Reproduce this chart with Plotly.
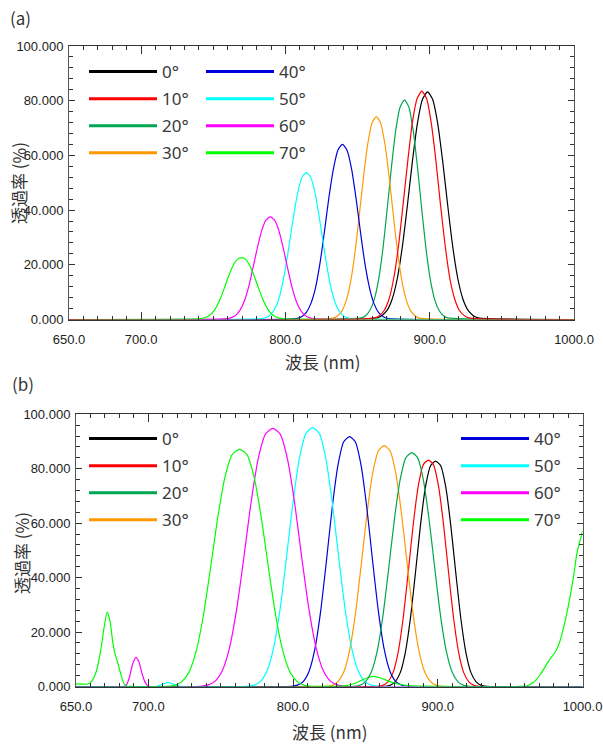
import plotly.graph_objects as go

# ---------------- data: panel (a) ----------------
angles = ["0°", "10°", "20°", "30°", "40°", "50°", "60°", "70°"]
colors = ["#000000", "#ff0000", "#00a651", "#ff9900", "#0000dd", "#00ffff", "#ff00ff", "#00ff00"]

a0_x = [650, 863.5, 867, 870.5, 874, 877.5, 881, 884.5, 888, 891.5, 895, 898.5, 902, 905.5, 909, 912.5, 916, 919.5, 923, 926.5, 930, 933.5, 1000]
a0_y = [0, 0.6, 1.5, 3.4, 7.5, 14.9, 26.5, 41.6, 57.8, 71.8, 80.5, 83.2, 80.5, 71.8, 57.8, 41.6, 26.5, 14.9, 7.5, 3.4, 1.5, 0.6, 0]

a10_x = [650, 862.0, 865.3, 868.5, 871.8, 875.0, 878.3, 881.5, 884.8, 888.0, 891.3, 894.5, 897.8, 901.0, 904.3, 907.5, 910.8, 914.0, 917.3, 920.5, 923.8, 927.0, 1000]
a10_y = [0, 0.6, 1.5, 3.4, 7.5, 14.9, 26.6, 41.8, 58.0, 72.1, 80.8, 83.5, 80.8, 72.1, 58.0, 41.8, 26.6, 14.9, 7.5, 3.4, 1.5, 0.6, 0]

a20_x = [650, 852.5, 855.5, 858.5, 861.5, 864.5, 867.5, 870.5, 873.5, 876.5, 879.5, 882.5, 885.5, 888.5, 891.5, 894.5, 897.5, 900.5, 903.5, 906.5, 909.5, 912.5, 1000]
a20_y = [0, 0.6, 1.4, 3.3, 7.2, 14.4, 25.5, 40.2, 55.8, 69.3, 77.7, 80.3, 77.7, 69.3, 55.8, 40.2, 25.5, 14.4, 7.2, 3.3, 1.4, 0.6, 0]

a30_x = [650, 833, 836, 839, 842, 845, 848, 851, 854, 857, 860, 863, 866, 869, 872, 875, 878, 881, 884, 887, 890, 893, 1000]
a30_y = [0, 0.5, 1.3, 3.0, 6.7, 13.3, 23.6, 37.1, 51.6, 64.0, 71.8, 74.2, 71.8, 64.0, 51.6, 37.1, 23.6, 13.3, 6.7, 3.0, 1.3, 0.5, 0]

a40_x = [650, 808.3, 811.4, 814.5, 817.6, 820.8, 823.9, 827.0, 830.1, 833.3, 836.4, 839.5, 842.6, 845.8, 848.9, 852.0, 855.1, 858.3, 861.4, 864.5, 867.6, 870.8, 1000]
a40_y = [0, 0.4, 1.1, 2.6, 5.8, 11.5, 20.4, 32.0, 44.5, 55.2, 62.0, 64.0, 62.0, 55.2, 44.5, 32.0, 20.4, 11.5, 5.8, 2.6, 1.1, 0.4, 0]

a50_x = [650, 784.5, 787.5, 790.5, 793.5, 796.5, 799.5, 802.5, 805.5, 808.5, 811.5, 814.5, 817.5, 820.5, 823.5, 826.5, 829.5, 832.5, 835.5, 838.5, 841.5, 844.5, 1000]
a50_y = [0, 0.4, 0.9, 2.2, 4.8, 9.6, 17.1, 26.9, 37.3, 46.3, 52.0, 53.7, 52.0, 46.3, 37.3, 26.9, 17.1, 9.6, 4.8, 2.2, 0.9, 0.4, 0]

a60_x = [650, 759.5, 762.5, 765.5, 768.5, 771.5, 774.5, 777.5, 780.5, 783.5, 786.5, 789.5, 792.5, 795.5, 798.5, 801.5, 804.5, 807.5, 810.5, 813.5, 816.5, 819.5, 1000]
a60_y = [0, 0.3, 0.7, 1.5, 3.4, 6.7, 11.9, 18.8, 26.1, 32.4, 36.3, 37.5, 36.3, 32.4, 26.1, 18.8, 11.9, 6.7, 3.4, 1.5, 0.7, 0.3, 0]

a70_x = [650, 739.5, 742.5, 745.5, 748.5, 751.5, 754.5, 757.5, 760.5, 763.5, 766.5, 769.5, 772.5, 775.5, 778.5, 781.5, 784.5, 787.5, 790.5, 793.5, 796.5, 799.5, 1000]
a70_y = [0, 0.2, 0.4, 0.9, 2.0, 4.0, 7.2, 11.3, 15.7, 19.5, 21.9, 22.6, 21.9, 19.5, 15.7, 11.3, 7.2, 4.0, 2.0, 0.9, 0.4, 0.2, 0]

# ---------------- data: panel (b) ----------------
b0_x = [650, 863.5, 867, 870.5, 874, 877.5, 881, 884.5, 888, 891.5, 895, 898.5, 902, 905.5, 909, 912.5, 916, 919.5, 923, 926.5, 930, 933.5, 1000]
b0_y = [0, 0.1, 0.4, 1.7, 5.0, 12.3, 24.7, 41.4, 59.1, 73.3, 81.1, 82.8, 81.1, 73.3, 59.1, 41.4, 24.7, 12.3, 5.0, 1.7, 0.4, 0.1, 0]

b10_x = [650, 858.5, 862, 865.5, 869, 872.5, 876, 879.5, 883, 886.5, 890, 893.5, 897, 900.5, 904, 907.5, 911, 914.5, 918, 921.5, 925, 928.5, 1000]
b10_y = [0, 0.1, 0.4, 1.7, 5.0, 12.3, 24.8, 41.6, 59.4, 73.6, 81.5, 83.2, 81.5, 73.6, 59.4, 41.6, 24.8, 12.3, 5.0, 1.7, 0.4, 0.1, 0]

b20_x = [650, 842, 846, 850, 854, 858, 862, 866, 870, 874, 878, 882, 886, 890, 894, 898, 902, 906, 910, 914, 918, 922, 1000]
b20_y = [0, 0.1, 0.4, 1.7, 5.2, 12.7, 25.6, 43.0, 61.3, 76.0, 84.1, 85.9, 84.1, 76.0, 61.3, 43.0, 25.6, 12.7, 5.2, 1.7, 0.4, 0.1, 0]

b30_x = [650, 823, 827, 831, 835, 839, 843, 847, 851, 855, 859, 863, 867, 871, 875, 879, 883, 887, 891, 895, 899, 903, 1000]
b30_y = [0, 0.1, 0.4, 1.8, 5.3, 13.1, 26.4, 44.3, 63.2, 78.3, 86.6, 88.5, 86.6, 78.3, 63.2, 44.3, 26.4, 13.1, 5.3, 1.8, 0.4, 0.1, 0]

b40_x = [650, 799, 803, 807, 811, 815, 819, 823, 827, 831, 835, 839, 843, 847, 851, 855, 859, 863, 867, 871, 875, 879, 1000]
b40_y = [0, 0.1, 0.5, 1.8, 5.5, 13.6, 27.4, 45.9, 65.5, 81.2, 89.9, 91.8, 89.9, 81.2, 65.5, 45.9, 27.4, 13.6, 5.5, 1.8, 0.5, 0.1, 0]

b50_x = [650, 705, 709, 713.5, 718, 722, 768.5, 773, 777.5, 782, 786.5, 791, 795.5, 800, 804.5, 809, 813.5, 818, 822.5, 827, 831.5, 836, 840.5, 845, 849.5, 854, 858.5, 1000]
b50_y = [0, 0, 0.6, 1.5, 0.7, 0.1, 0.1, 0.5, 1.9, 5.7, 14.1, 28.3, 47.6, 67.9, 84.2, 93.1, 95.1, 93.1, 84.2, 67.9, 47.6, 28.3, 14.1, 5.7, 1.9, 0.5, 0.1, 0]

b60_x = [650, 683, 685, 687, 689, 691.4, 693.5, 695.5, 697.5, 700, 736, 741, 746, 751, 756, 761, 766, 771, 776, 781, 786, 791, 796, 801, 806, 811, 816, 821, 826, 831, 836, 1000]
b60_y = [0, 0, 0.8, 3.5, 8.0, 10.7, 9.0, 5.0, 1.8, 0.1, 0.1, 0.5, 1.9, 5.7, 14.0, 28.3, 47.4, 67.7, 83.9, 92.8, 94.8, 92.8, 83.9, 67.7, 47.4, 28.3, 14.0, 5.7, 1.9, 0.5, 0.1, 0]

b70_x = [650, 654, 658, 661, 664, 667, 669.5, 671.5, 673.5, 675.5, 677, 679, 681, 683, 685, 690,
         713, 718, 723, 728, 733, 738, 743, 748, 753, 758, 763, 768, 773, 778, 783, 788, 793, 798, 803, 808, 813,
         835, 842, 848, 853, 856, 860, 866, 872, 880,
         955, 961, 966, 971, 977, 981, 984, 988, 991, 994, 996, 998, 1000]
b70_y = [1.0, 0.9, 0.9, 2.0, 5.5, 13.0, 22.0, 27.3, 24.0, 16.0, 12.0, 8.5, 4.5, 1.2, 0.2, 0,
         0.1, 0.4, 1.7, 5.2, 12.9, 26.0, 43.6, 62.2, 77.1, 85.3, 87.1, 85.3, 77.1, 62.2, 43.6, 26.0, 12.9, 5.2, 1.7, 0.4, 0.1,
         0.2, 1.0, 2.5, 3.5, 3.7, 3.2, 2.0, 1.0, 0.3,
         0, 0.2, 1.5, 4.5, 9.7, 12.5, 16.0, 24.0, 31.8, 41.0, 48.5, 53.0, 57.0]

x_tickvals = [650, 700, 800, 900, 1000]
x_ticktext = ["650.0", "700.0", "800.0", "900.0", "1000.0"]
y_tickvals = [0, 20, 40, 60, 80, 100]
y_ticktext = ["0.000", "20.000", "40.000", "60.000", "80.000", "100.000"]

a_series = [(a0_x, a0_y), (a10_x, a10_y), (a20_x, a20_y), (a30_x, a30_y),
            (a40_x, a40_y), (a50_x, a50_y), (a60_x, a60_y), (a70_x, a70_y)]
b_series = [(b0_x, b0_y), (b10_x, b10_y), (b20_x, b20_y), (b30_x, b30_y),
            (b40_x, b40_y), (b50_x, b50_y), (b60_x, b60_y), (b70_x, b70_y)]

W, H = 603, 744
fig = go.Figure()

a_order = [0, 2, 3, 4, 5, 6, 7, 1]   # red drawn last (on the baseline)
b_order = [0, 1, 3, 4, 5, 6, 7, 2]
for i in a_order:
    xs, ys = a_series[i]
    fig.add_trace(go.Scatter(x=xs, y=ys, mode="lines", name=angles[i],
                             line=dict(color=colors[i], width=1.2, shape="spline", smoothing=0.6),
                             xaxis="x", yaxis="y", showlegend=False, hoverinfo="x+y+name"))
for i in b_order:
    xs, ys = b_series[i]
    fig.add_trace(go.Scatter(x=xs, y=ys, mode="lines", name=angles[i],
                             line=dict(color=colors[i], width=1.2, shape="spline", smoothing=0.6),
                             xaxis="x2", yaxis="y2", showlegend=False, hoverinfo="x+y+name"))

# legend entries
for panel, (xa, ya, legs) in enumerate([("x", "y", ["legend", "legend2"]), ("x2", "y2", ["legend3", "legend4"])]):
    for i in range(8):
        fig.add_trace(go.Scatter(x=[None], y=[None], mode="lines", name=angles[i],
                                 line=dict(color=colors[i], width=3),
                                 xaxis=xa, yaxis=ya, legend=legs[0] if i < 4 else legs[1],
                                 legendgroup=f"p{panel}g{i}", legendrank=i, showlegend=True))

tickfont = dict(family="Liberation Sans, Arial, sans-serif", size=13, color="#222")
def xax(domain, anchor):
    return dict(domain=domain, anchor=anchor, range=[650, 1000], tickmode="array",
                tickvals=x_tickvals, ticktext=x_ticktext, ticks="inside", ticklen=8,
                tickwidth=1, tickcolor="#333", showline=True, linecolor="#333", linewidth=1,
                mirror="ticks", showgrid=False, zeroline=False, tickfont=tickfont,
                ticklabelstandoff=8, automargin=False,
                minor=dict(tick0=650, dtick=10, ticks="inside", ticklen=4, tickcolor="#333", showgrid=False))
def yax(domain, anchor):
    return dict(domain=domain, anchor=anchor, range=[0, 100], tickmode="array",
                tickvals=y_tickvals, ticktext=y_ticktext, ticks="inside", ticklen=6,
                tickwidth=1, tickcolor="#333", showline=True, linecolor="#555", linewidth=1,
                mirror="ticks", showgrid=False, zeroline=False, tickfont=tickfont,
                ticklabelstandoff=2, automargin=False,
                minor=dict(tick0=0, dtick=4, ticks="inside", ticklen=4, tickcolor="#333", showgrid=False))

legfont = dict(family="Noto Sans, Open Sans, sans-serif", size=17, color="#3a3a3a")
def leg(xpx, ypx):
    return dict(x=xpx / W, y=1 - ypx / H, xanchor="left", yanchor="top", font=legfont,
                bgcolor="rgba(0,0,0,0)", borderwidth=0, itemwidth=68, tracegroupgap=2,
                traceorder="grouped", itemclick=False, itemdoubleclick=False)

fig.update_layout(
    width=W, height=H, margin=dict(l=0, r=0, t=0, b=0, autoexpand=False),
    paper_bgcolor="white", plot_bgcolor="white",
    xaxis=xax([69 / W, 574 / W], "y"),
    yaxis=yax([1 - 319.5 / H, 1 - 46 / H], "x"),
    xaxis2=xax([76 / W, 582.5 / W], "y2"),
    yaxis2=yax([1 - 686.5 / H, 1 - 414.3 / H], "x2"),
    legend=leg(84, 54),
    legend2=leg(201, 54),
    legend3=leg(84, 421),
    legend4=leg(456, 421),
    showlegend=True,
)

ann_font = dict(family="Noto Sans CJK JP, Noto Sans, sans-serif", size=17, color="#333")
annots = [
    dict(text="(a)", x=8 / W, y=1 - 18 / H, xanchor="left", yanchor="middle"),
    dict(text="(b)", x=10 / W, y=1 - 383 / H, xanchor="left", yanchor="middle"),
    dict(text="透過率 (%)", x=18 / W, y=1 - 183 / H, xanchor="center", yanchor="middle", textangle=-90),
    dict(text="波長 (nm)", x=322 / W, y=1 - 361 / H, xanchor="center", yanchor="middle"),
    dict(text="透過率 (%)", x=21 / W, y=1 - 553 / H, xanchor="center", yanchor="middle", textangle=-90),
    dict(text="波長 (nm)", x=329 / W, y=1 - 731 / H, xanchor="center", yanchor="middle"),
]
for a in annots:
    fig.add_annotation(xref="paper", yref="paper", showarrow=False, font=ann_font, **a)

fig.write_html("out.html", config={"displayModeBar": False},
               post_script="document.body.style.margin='0';document.body.style.overflow='hidden';")
